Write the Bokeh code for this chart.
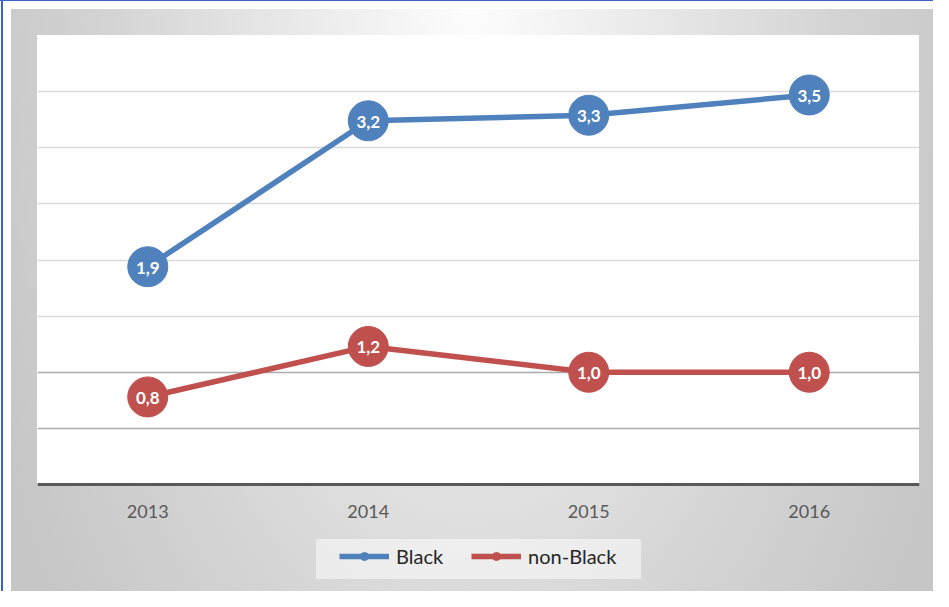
from bokeh.plotting import figure
from bokeh.models import Range1d, FactorRange, FixedTicker, Grid, Legend, LegendItem, ColumnDataSource
from bokeh.embed import file_html
from bokeh.resources import INLINE
from bokeh.core.properties import value

# ---- data ----
years = ["2013", "2014", "2015", "2016"]
black = [1.94, 3.24, 3.29, 3.47]
non_black = [0.78, 1.23, 1.0, 1.0]
series_names = ["Black", "non-Black"]
grid_light = [1.5, 2.0, 2.5, 3.0, 3.5, 4.0]
grid_dark = [0.5, 1.0]

BLUE = "#4F81BD"
RED = "#C0504D"
FONT = "Lato"

# layout (pixels)
W, H = 933, 591
PLOT_L, PLOT_T, PLOT_W, PLOT_H = 37, 35, 882, 449   # white plotting area
Y_MAX = 4.0
below_px = H - PLOT_T - PLOT_H                     # room under the value axis for labels + legend
y_min = -below_px * Y_MAX / PLOT_H


def fmt(v):
    return f"{v:.1f}".replace(".", ",")


p = figure(
    width=W, height=H,
    x_range=FactorRange(*years, range_padding=0),
    y_range=Range1d(y_min, Y_MAX),
    output_backend="svg", toolbar_location=None,
    y_axis_location=None,
    min_border_left=PLOT_L, min_border_right=W - PLOT_L - PLOT_W, min_border_top=PLOT_T, min_border_bottom=0,
)
p.border_fill_color = None
p.background_fill_color = None
p.outline_line_color = None
p.styles = {
    "background": (
        f"linear-gradient(#ffffff, #ffffff) {PLOT_L}px {PLOT_T}px / {PLOT_W}px {PLOT_H}px no-repeat, "
        "linear-gradient(rgba(255,255,255,0.5), rgba(255,255,255,0.5)) 316px 539px / 325px 40px no-repeat, "
        "linear-gradient(#3C64C8, #3C64C8) 0px 0px / 100% 1px no-repeat, "
        "linear-gradient(#3C64C8, #3C64C8) 1px 0px / 2px 100% no-repeat, "
        "radial-gradient(ellipse 520px 1000px at 50% 0%, #fdfdfd 0%, #d4d4d4 70%, #c6c6c6 100%) "
        "11px 9px / calc(100% - 11px) calc(100% - 9px) no-repeat, #ffffff"
    )
}

# grids
p.xgrid.visible = False
p.ygrid.ticker = FixedTicker(ticks=grid_light)
p.ygrid.grid_line_color = "#D9D9D9"
p.ygrid.grid_line_width = 1.5
g2 = Grid(dimension=1, ticker=FixedTicker(ticks=grid_dark), grid_line_color="#ABABAB", grid_line_width=1.5)
p.add_layout(g2, "center")

# x axis at value 0
ax = p.xaxis[0]
ax.fixed_location = 0
ax.axis_line_color = "#595959"
ax.axis_line_width = 3
ax.major_tick_line_color = None
ax.minor_tick_line_color = None
ax.major_tick_out = 0
ax.major_tick_in = 0
ax.major_label_text_font = FONT
ax.major_label_text_font_size = "18px"
ax.major_label_text_color = "#595959"
ax.major_label_standoff = 20

items = []
for name, vals, col in [(series_names[0], black, BLUE), (series_names[1], non_black, RED)]:
    src = ColumnDataSource(dict(x=years, y=vals, lab=[fmt(v) for v in vals]))
    ln = p.line("x", "y", source=src, line_color=col, line_width=5.5)
    small = p.scatter("x", "y", source=src, size=11, fill_color=col, line_color=col)
    p.scatter("x", "y", source=src, size=40, fill_color=col, line_color=col)
    p.text("x", "y", text="lab", source=src, text_color="white", text_font=value(FONT),
           text_font_style="bold", text_font_size="17px", text_align="center",
           text_baseline="middle", y_offset=1)
    items.append(LegendItem(label=name, renderers=[ln, small]))

legend = Legend(
    items=items, orientation="horizontal", location=(302, 23),
    background_fill_alpha=0, border_line_color=None, padding=0, margin=0,
    glyph_width=50, glyph_height=20, label_height=20, label_standoff=7, spacing=28,
    label_text_font=FONT, label_text_font_size="20px", label_text_color="#262626",
)
p.add_layout(legend, "center")

open("out.html", "w").write(file_html(p, INLINE))
